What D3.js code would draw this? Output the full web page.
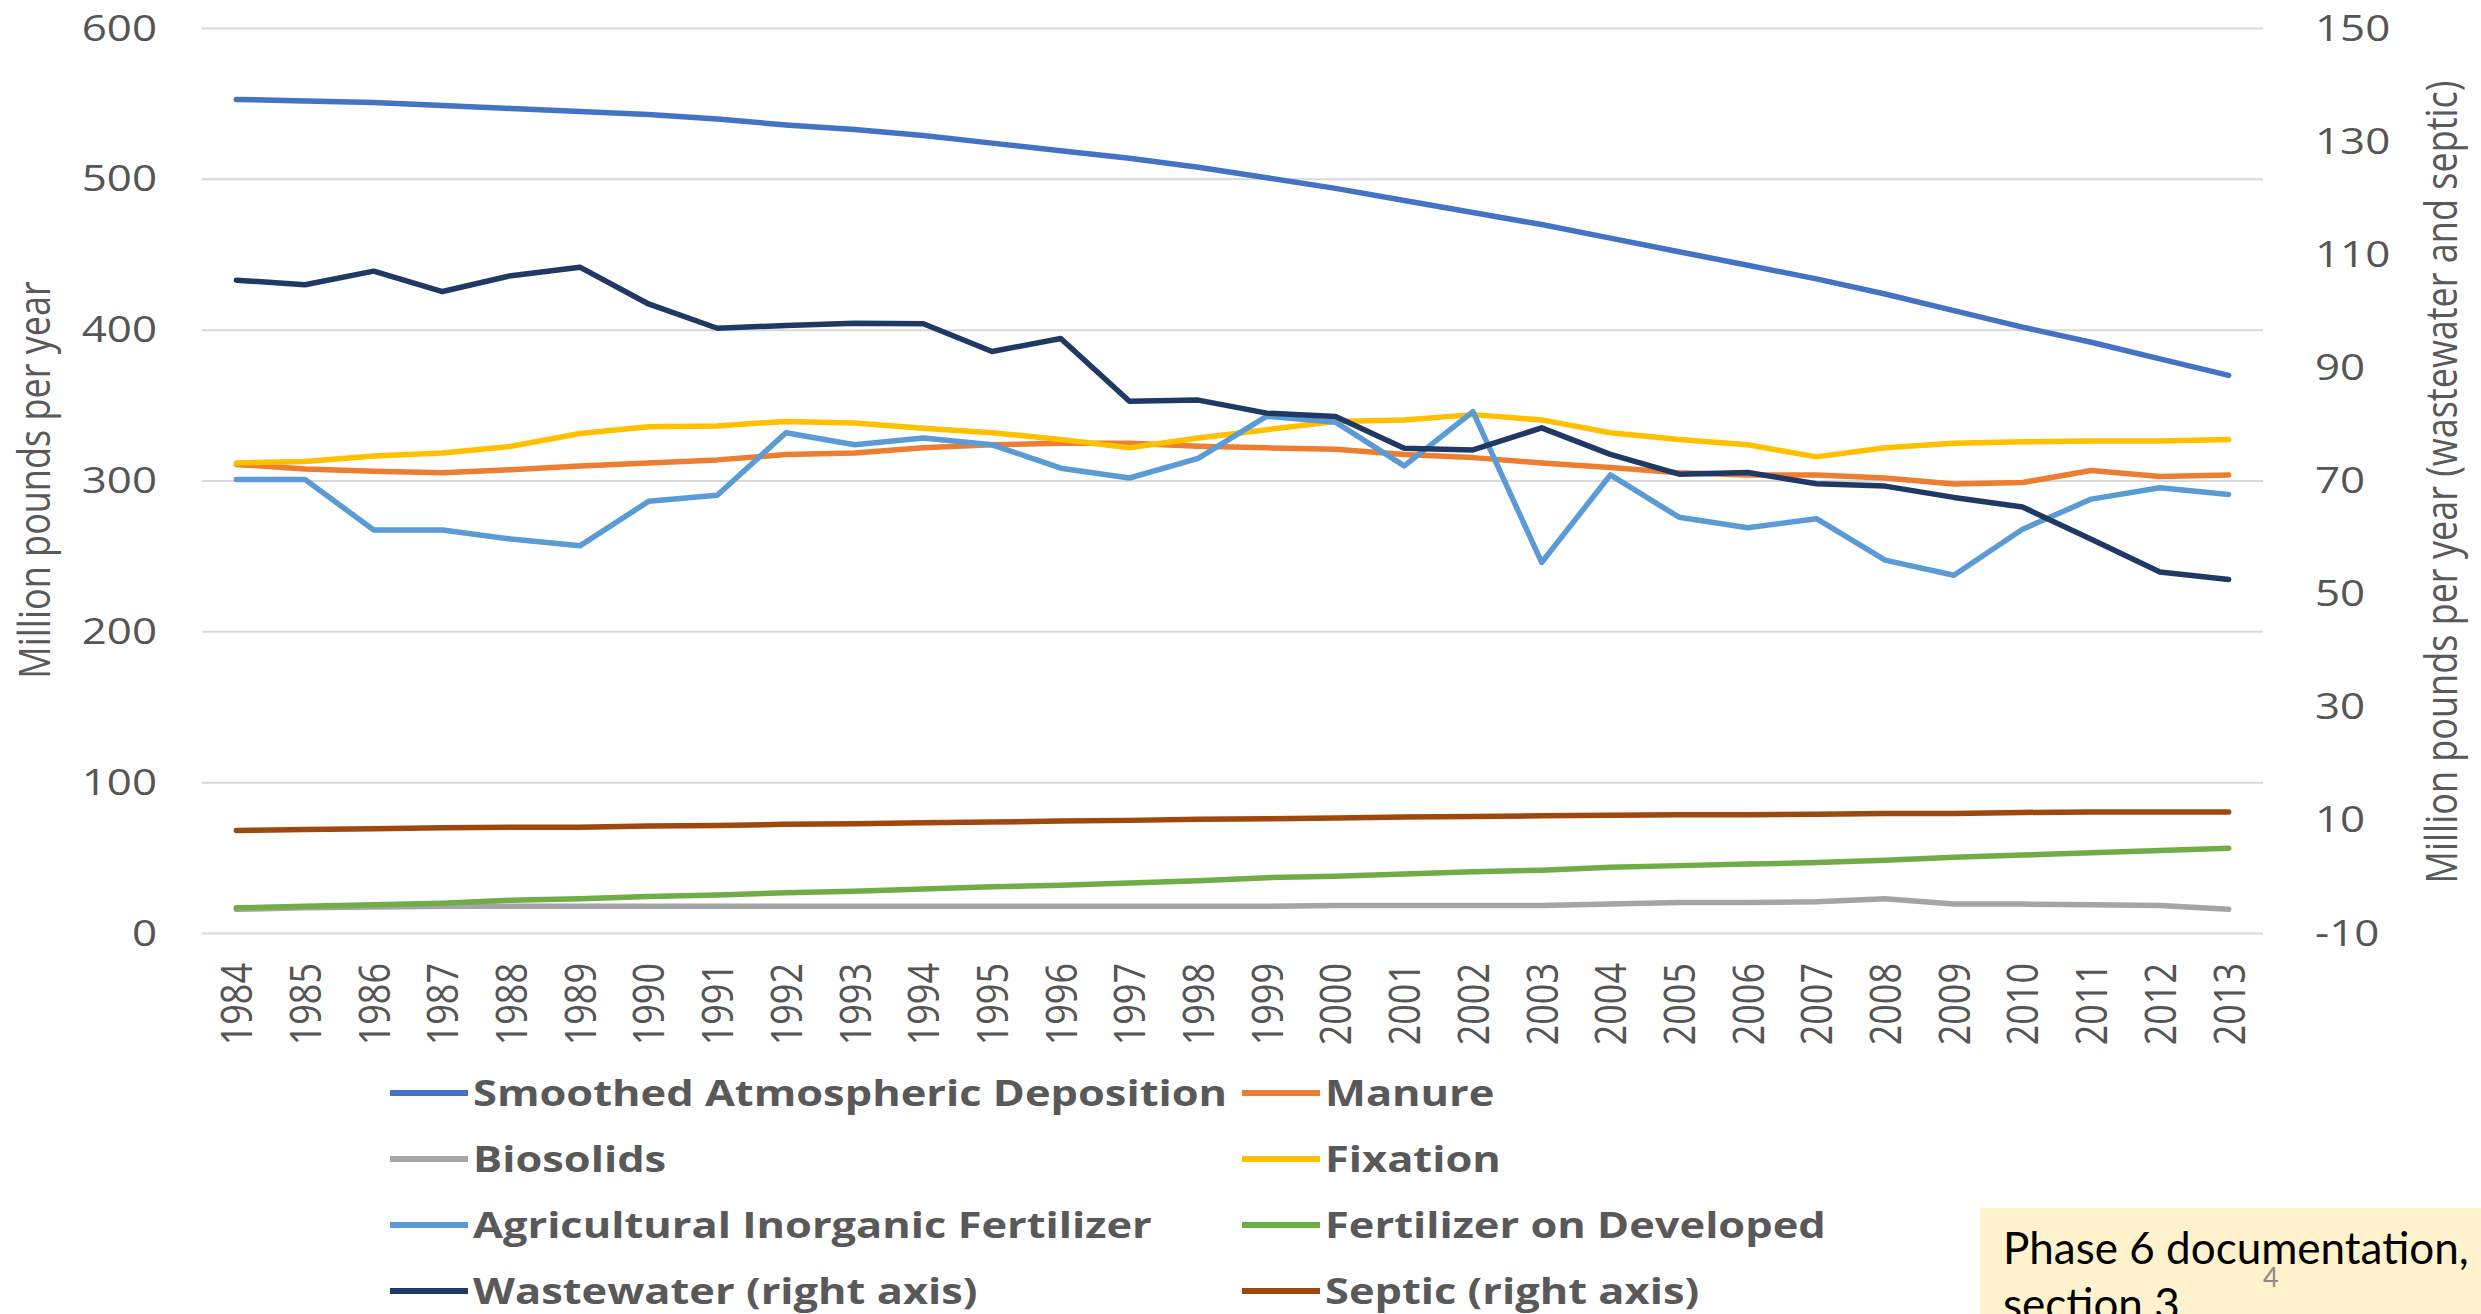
<!DOCTYPE html>
<html lang="en">
<head>
<meta charset="UTF-8">
<title>Nitrogen loads 1984-2013</title>
<style>
    body { margin: 0; background: #fff; }
    .axis text { font-family: "Open Sans", sans-serif; font-size: 36px; fill: #555; }
    .axis path { display: none; }
    .grid line { stroke: #d9d9d9; stroke-width: 2; }
    .legend text { font-family: "Open Sans", sans-serif; font-size: 35px; font-weight: 700; fill: #595959; }
    .title { font-family: "Open Sans", sans-serif; font-size: 36px; fill: #595959; }
</style>
</head>
<body>
<script src="https://cdn.jsdelivr.net/npm/d3@7"></script>
<script>
// data
var years = d3.range(1984, 2014);
var leftTicks = [0, 100, 200, 300, 400, 500, 600];
var rightTicks = [-10, 10, 30, 50, 70, 90, 110, 130, 150];

var atmospheric = [553, 552, 551, 549, 547, 545, 543, 540, 536, 533, 529, 524, 519, 514, 508, 501, 494, 486, 478, 470, 461, 452, 443, 434, 424, 413, 402, 392, 381, 370];
var manure = [311, 308, 306.5, 305.5, 307.5, 310, 312, 314, 317.5, 318.5, 322, 324, 325, 325, 323, 322, 321, 317.5, 315.5, 312, 309, 305.5, 304, 304, 302, 298, 299, 307, 303, 304];
var biosolids = [16, 17, 17.5, 18, 18, 18, 18, 18, 18, 18, 18, 18, 18, 18, 18, 18, 18.5, 18.5, 18.5, 18.5, 19.5, 20.5, 20.5, 21, 23, 19.5, 19.5, 19, 18.5, 16];
var fixation = [312, 313, 316.5, 318.5, 323, 331.5, 336, 336.5, 339.5, 338.5, 335, 332, 327.5, 322, 328.5, 334, 339.5, 340.5, 344, 340.5, 332, 327.5, 324, 316, 322, 325, 326, 326.5, 326.5, 327.5];
var agFertilizer = [301, 301, 267.5, 267.5, 261.5, 257, 286.5, 290.5, 332, 324, 328.5, 324, 308.5, 302, 315, 343, 339, 310, 346, 246, 304, 276, 269, 275, 247.5, 237.5, 268, 288, 295.5, 291];
var fertDeveloped = [17, 18, 19, 20, 22, 23, 24.5, 25.5, 27, 28, 29.5, 31, 32, 33.5, 35, 37, 38, 39.5, 41, 42, 44, 45, 46, 47, 48.5, 50.5, 52, 53.5, 55, 56.5];
var wastewater = [105.5, 104.7, 107.1, 103.5, 106.3, 107.8, 101.3, 97.0, 97.5, 97.9, 97.8, 92.9, 95.2, 84.1, 84.3, 82.0, 81.4, 75.8, 75.5, 79.4, 74.7, 71.2, 71.5, 69.5, 69.1, 67.1, 65.4, 59.7, 53.9, 52.6];
var septic = [8.2, 8.4, 8.5, 8.7, 8.8, 8.8, 9.0, 9.1, 9.3, 9.4, 9.6, 9.7, 9.9, 10.0, 10.2, 10.3, 10.4, 10.6, 10.7, 10.8, 10.9, 11.0, 11.0, 11.1, 11.2, 11.2, 11.4, 11.5, 11.5, 11.5];

var seriesNames = ["Smoothed Atmospheric Deposition", "Manure", "Biosolids", "Fixation",
    "Agricultural Inorganic Fertilizer", "Fertilizer on Developed", "Wastewater (right axis)", "Septic (right axis)"];
var seriesData = [atmospheric, manure, biosolids, fixation, agFertilizer, fertDeveloped, wastewater, septic];
var seriesAxis = ["L", "L", "L", "L", "L", "L", "R", "R"];
var seriesColor = ["#4472c4", "#ed7d31", "#a5a5a5", "#ffc000", "#5b9bd5", "#70ad47", "#203864", "#9e480e"];

var width = 2481, height = 1314;
var SX = 1.22;   // the original picture is stretched sideways

var svg = d3.select("body").append("svg")
    .attr("width", width)
    .attr("height", height);

var x = d3.scalePoint().domain(years).range([202, 2263]).padding(0.5);
var yLeft = d3.scaleLinear().domain([0, 600]).range([933.5, 28.5]);
var yRight = d3.scaleLinear().domain([-10, 150]).range([933.5, 28.5]);

// gridlines
svg.append("g").attr("class", "grid")
    .selectAll("line").data(leftTicks).enter().append("line")
    .attr("x1", 202).attr("x2", 2263)
    .attr("y1", function(d){ return yLeft(d); })
    .attr("y2", function(d){ return yLeft(d); });

// left axis
svg.append("g").attr("class", "axis")
    .attr("transform", "translate(157,0)")
    .call(d3.axisLeft(yLeft).tickValues(leftTicks).tickSize(0).tickPadding(0))
    .selectAll("text")
    .attr("x", 0)
    .attr("transform", "scale(" + SX + ",1)");

// right axis (plain hyphen for the minus sign, as in the original)
svg.append("g").attr("class", "axis")
    .attr("transform", "translate(2315,0)")
    .call(d3.axisRight(yRight).tickValues(rightTicks).tickSize(0).tickPadding(0)
        .tickFormat(function(d){ return String(d); }))
    .selectAll("text")
    .attr("x", 0)
    .attr("transform", "scale(" + SX + ",1)");

// x axis, rotated year labels
svg.append("g").attr("class", "axis")
    .attr("transform", "translate(0,963)")
    .call(d3.axisBottom(x).tickSize(0))
    .selectAll("text")
    .attr("x", 0).attr("y", 0).attr("dy", "0.35em")
    .style("text-anchor", "end")
    .attr("transform", "rotate(-90) scale(1," + SX + ")");

// axis titles
svg.append("text").attr("class", "title")
    .attr("transform", "translate(35,480) rotate(-90) scale(1," + SX + ")")
    .attr("text-anchor", "middle").attr("dy", "0.35em")
    .text("Million pounds per year");

svg.append("text").attr("class", "title")
    .attr("transform", "translate(2442,482) rotate(-90) scale(1," + SX + ")")
    .attr("text-anchor", "middle").attr("dy", "0.35em")
    .text("Million pounds per year (wastewater and septic)");

// lines
var lineL = d3.line().x(function(d, i){ return x(years[i]); }).y(function(d){ return yLeft(d); });
var lineR = d3.line().x(function(d, i){ return x(years[i]); }).y(function(d){ return yRight(d); });

svg.append("g").selectAll("path").data(seriesData).enter().append("path")
    .attr("d", function(d, i){ return seriesAxis[i] === "L" ? lineL(d) : lineR(d); })
    .attr("fill", "none")
    .attr("stroke", function(d, i){ return seriesColor[i]; })
    .attr("stroke-width", 5.5)
    .attr("stroke-linejoin", "round")
    .attr("stroke-linecap", "round");

// legend, two columns
var legend = svg.append("g").attr("class", "legend")
    .selectAll("g").data(seriesNames).enter().append("g")
    .attr("transform", function(d, i){
        return "translate(" + (i % 2 === 0 ? 390 : 1242) + "," + (1093 + Math.floor(i / 2) * 66) + ")";
    });

legend.append("line")
    .attr("x1", 0).attr("x2", 78)
    .attr("stroke", function(d, i){ return seriesColor[i]; })
    .attr("stroke-width", 6);

legend.append("text")
    .attr("dy", "0.36em")
    .attr("transform", "translate(83,0) scale(1.24,1)")
    .text(function(d){ return d; });

// slide note
svg.append("rect")
    .attr("x", 1980).attr("y", 1208)
    .attr("width", width - 1980).attr("height", height - 1208)
    .attr("fill", "#fff2cc");

svg.append("text")
    .attr("x", 2003).attr("y", 1264)
    .style("font-family", "Lato, sans-serif").style("font-size", "44px").style("fill", "#000")
    .text("Phase 6 documentation,");

svg.append("text")
    .attr("x", 2003).attr("y", 1320)
    .style("font-family", "Lato, sans-serif").style("font-size", "44px").style("fill", "#000")
    .text("section 3");

svg.append("text")
    .attr("x", 2263).attr("y", 1287)
    .style("font-family", "Lato, sans-serif").style("font-size", "27px").style("fill", "#8c8c8c")
    .text("4");
</script>
</body>
</html>
